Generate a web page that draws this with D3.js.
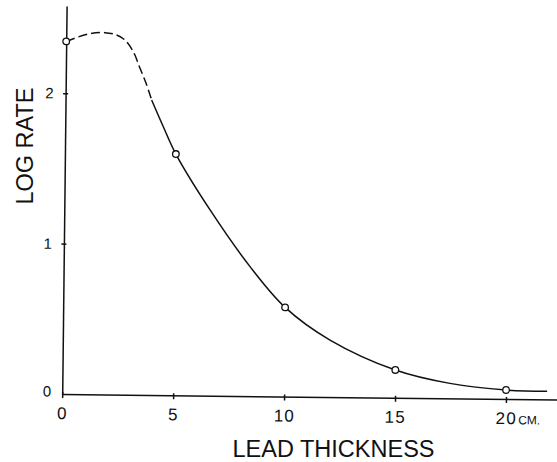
<!DOCTYPE html>
<html>
<head>
<meta charset="utf-8">
<script src="https://cdn.jsdelivr.net/npm/d3@7"></script>
<style>
    body { margin: 0; background: #fff; }
    text { font-family: "Liberation Sans", Arial, sans-serif; fill: #111; }
</style>
</head>
<body>
<div id="chart"></div>
<script>
// measured points (open circles)
const thickness = [0, 5, 10, 15, 20];
const logRate = [2.345, 1.604, 0.593, 0.185, 0.060];

// drawn curve, dashed (extrapolated) part
const dashX = [0, 0.99, 1.74, 2.27, 2.65, 3.03, 3.34, 3.65, 3.88];
const dashY = [2.345, 2.396, 2.406, 2.391, 2.358, 2.281, 2.172, 2.061, 1.962];

// drawn curve, solid part
const solidX = [3.88, 4.42, 5, 6.57, 8.40, 10, 12.04, 15, 17.47, 20, 21.85];
const solidY = [1.962, 1.785, 1.604, 1.235, 0.861, 0.593, 0.379, 0.185, 0.100, 0.060, 0.055];

const xTicks = [0, 5, 10, 15, 20];
const yTicks = [0, 1, 2];

const width = 557;
const height = 462;
const margin = {top: 6, left: 62.2, bottom: 68};

const xScale = d3.scaleLinear()
    .domain([0, 22.5])
    .range([margin.left, margin.left + 22.19 * 22.5]);

const yScale = d3.scaleLinear()
    .domain([0, 2.58])
    .range([height - margin.bottom, margin.top]);

const svg = d3.select("#chart")
    .append("svg")
    .attr("width", width)
    .attr("height", height);

// the scanned figure is turned a little clockwise
const plot = svg.append("g")
    .attr("transform", `rotate(0.65, 61.5, ${yScale(0)})`);

// x axis
const xAxis = plot.append("g")
    .attr("transform", `translate(0,${yScale(0)})`)
    .call(d3.axisBottom(xScale)
        .tickValues(xTicks)
        .tickSizeInner(4)
        .tickSizeOuter(0)
        .tickPadding(9)
        .tickFormat(d3.format("d")));

xAxis.selectAll(".tick line").attr("y1", -2).attr("y2", 4);
xAxis.selectAll(".tick text").attr("letter-spacing", 1.2);

xAxis.selectAll(".tick").filter(function(d) { return d === 20; })
    .append("text")
    .attr("x", 12)
    .attr("y", 25)
    .attr("font-size", 12)
    .attr("text-anchor", "start")
    .text("CM.");

// y axis
const yAxis = plot.append("g")
    .attr("transform", `translate(${xScale(0)},0)`)
    .call(d3.axisLeft(yScale)
        .tickValues(yTicks)
        .tickSizeInner(3)
        .tickSizeOuter(0)
        .tickPadding(9)
        .tickFormat(d3.format("d")));

yAxis.selectAll(".tick line").attr("x1", 2.5).attr("x2", -2.5);
yAxis.selectAll(".tick").filter(function(d) { return d === 0; }).remove();
yAxis.append("text")
    .attr("x", -11)
    .attr("y", yScale(0) - 2)
    .attr("dy", "0.32em")
    .attr("text-anchor", "end")
    .attr("fill", "#111")
    .text("0");

xAxis.attr("font-size", 17).attr("font-family", null);
yAxis.attr("font-size", 15).attr("font-family", null);
[xAxis, yAxis].forEach(function(a) {
    a.selectAll("text").attr("fill", "#111");
    a.selectAll("line, path").attr("stroke", "#111").attr("stroke-width", 1.5);
});

// curve
const line = d3.line()
    .x(function(d) { return xScale(d[0]); })
    .y(function(d) { return yScale(d[1]); })
    .curve(d3.curveCatmullRom.alpha(0.5));

plot.append("path")
    .datum(dashX.map(function(d, i) { return [d, dashY[i]]; }))
    .attr("d", line)
    .attr("fill", "none")
    .attr("stroke", "#111")
    .attr("stroke-width", 1.5)
    .attr("stroke-dasharray", "9,4");

plot.append("path")
    .datum(solidX.map(function(d, i) { return [d, solidY[i]]; }))
    .attr("d", line)
    .attr("fill", "none")
    .attr("stroke", "#111")
    .attr("stroke-width", 1.5);

// points
plot.selectAll(".pt")
    .data(thickness)
    .enter()
    .append("circle")
        .attr("class", "pt")
        .attr("cx", function(d) { return xScale(d); })
        .attr("cy", function(d, i) { return yScale(logRate[i]); })
        .attr("r", 3.3)
        .attr("fill", "#fff")
        .attr("stroke", "#111")
        .attr("stroke-width", 1.3);

// axis titles
svg.append("text")
    .attr("x", 333.5)
    .attr("y", 457)
    .attr("text-anchor", "middle")
    .attr("font-size", 23.5)
    .text("LEAD THICKNESS");

svg.append("text")
    .attr("transform", "translate(33,146) rotate(-90)")
    .attr("text-anchor", "middle")
    .attr("font-size", 23.5)
    .text("LOG RATE");
</script>
</body>
</html>
